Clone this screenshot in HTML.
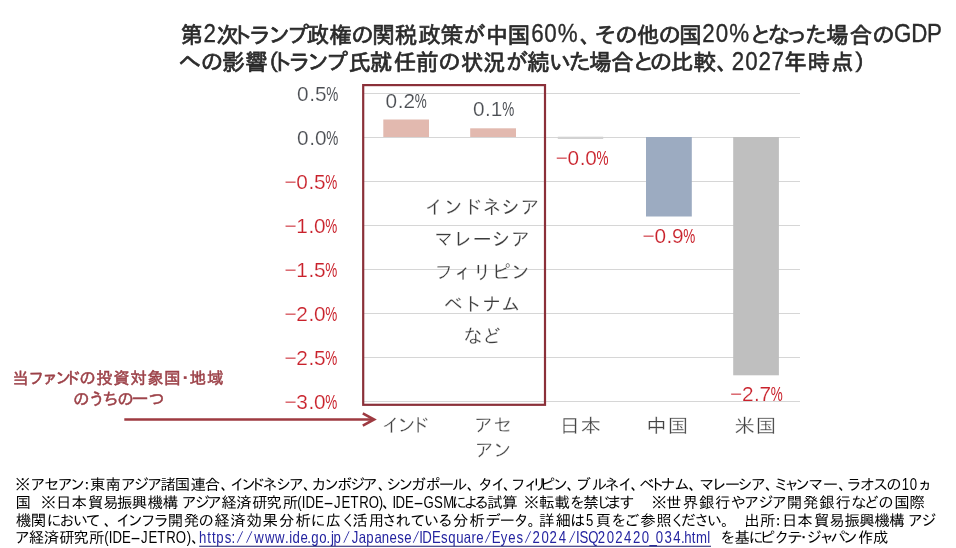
<!DOCTYPE html>
<html lang="ja"><head><meta charset="utf-8"><title>GDP chart</title>
<style>html,body{margin:0;padding:0;background:#fff}svg{display:block}text{white-space:pre}.t{font-family:"Liberation Sans","IPAPGothic","IPAGothic","Noto Sans CJK JP",sans-serif;fill:#2b2b2b;stroke:#2b2b2b;stroke-width:.7px}.tl{stroke-width:.35px}.ax{font-family:"Liberation Sans",sans-serif;font-size:20.8px;stroke:#fff;stroke-width:.2px}.pc{stroke:none}.g{fill:#4b4e53}.r{fill:#c9212b}.in{font-family:"Liberation Sans","IPAGothic","Noto Sans CJK JP",sans-serif;font-size:19.1px;fill:#3c3c3c;stroke:#fff;stroke-width:.2px}.cat{font-family:"Liberation Sans","IPAPGothic","IPAGothic","Noto Sans CJK JP",sans-serif;fill:#444;stroke:#fff;stroke-width:.3px}.an{font-family:"Liberation Sans","IPAPGothic","IPAGothic","Noto Sans CJK JP",sans-serif;fill:#9c4148;stroke:#9c4148;stroke-width:.5px}.fn{font-family:"Liberation Sans","IPAPGothic","IPAGothic","Noto Sans CJK JP",sans-serif;fill:#000}.lk{fill:#2424a0}.sl{stroke:#fff;stroke-width:.75px}</style></head><body>
<svg width="956" height="548" viewBox="0 0 956 548">
<rect width="956" height="548" fill="#fff"/>
<text class="t" font-size="22.5" x="180.4" y="42.5">第</text>
<text class="t tl" font-size="26" x="236.6" y="42.5" transform="scale(0.86 1)">2</text>
<text class="t" font-size="22.5" x="216.4 235.1 250.6 269.7 288.5 306.7 329.4 351.5 372.2 395.0 418.2 440.8 463.5 485.4 507.6" y="42.5">次トランプ政権の関税政策が中国</text>
<text class="t tl" font-size="26" x="617.6 632.9 648.5" y="42.5" transform="scale(0.86 1)">60%</text>
<text class="t" font-size="22.5" x="579.7 595.6 615.4 637.0 658.7 678.9" y="42.5">、その他の国</text>
<text class="t tl" font-size="26" x="816.5 832.2 847.9" y="42.5" transform="scale(0.86 1)">20%</text>
<text class="t" font-size="22.5" x="751.7 767.9 787.8 805.4 826.2 849.8 872.6" y="42.5">となった場合の</text>
<text class="t tl" font-size="26" x="1039.6 1059.5 1077.8" y="42.5" transform="scale(0.86 1)">GDP</text>
<text class="t" font-size="22.5" x="178.8 201.0 222.2 245.2 267.0 275.0 289.9 308.6 327.6 348.4 370.1 393.8 416.0 438.5 460.9 483.2 505.9 527.0 549.7 569.1 589.2 611.2 634.5 649.9 670.7 693.4 716.6" y="69.6">への影響（トランプ氏就任前の状況が続いた場合との比較、</text>
<text class="t tl" font-size="26" x="850.8 866.5 881.9 897.2" y="69.6" transform="scale(0.86 1)">2027</text>
<text class="t" font-size="22.5" x="784.3 807.8 831.0 853.9" y="69.6">年時点）</text>
<line x1="364" x2="800" y1="93.5" y2="93.5" stroke="#d6d6d6" stroke-width="1"/>
<line x1="364" x2="800" y1="137.5" y2="137.5" stroke="#d6d6d6" stroke-width="1"/>
<line x1="364" x2="800" y1="181.5" y2="181.5" stroke="#d6d6d6" stroke-width="1"/>
<line x1="364" x2="800" y1="225.5" y2="225.5" stroke="#d6d6d6" stroke-width="1"/>
<line x1="364" x2="800" y1="269.5" y2="269.5" stroke="#d6d6d6" stroke-width="1"/>
<line x1="364" x2="800" y1="313.5" y2="313.5" stroke="#d6d6d6" stroke-width="1"/>
<line x1="364" x2="800" y1="357.5" y2="357.5" stroke="#d6d6d6" stroke-width="1"/>
<line x1="364" x2="800" y1="401.5" y2="401.5" stroke="#d6d6d6" stroke-width="1"/>
<rect x="383.3" y="119.5" width="45.7" height="17.5" fill="#e2b9af"/>
<rect x="470.2" y="128.3" width="45.8" height="8.7" fill="#e2b9af"/>
<rect x="557.8" y="136.7" width="45.4" height="2.3" fill="#d2d2d2"/>
<rect x="646" y="137.0" width="45.8" height="79.5" fill="#9cabc1"/>
<rect x="733.2" y="137.0" width="45.7" height="238.3" fill="#bfbfbf"/>
<text class="ax g" x="297.0 309.2 314.9" y="100.8">0.5</text>
<text class="ax pc g" x="326.3" y="100.8" textLength="12" lengthAdjust="spacingAndGlyphs">%</text>
<text class="ax g" x="297.0 309.2 314.9" y="144.8">0.0</text>
<text class="ax pc g" x="326.3" y="144.8" textLength="12" lengthAdjust="spacingAndGlyphs">%</text>
<text class="ax r" x="284.5 296.3 308.5 314.0" y="188.9">−0.5</text>
<text class="ax pc r" x="325.2" y="188.9" textLength="12" lengthAdjust="spacingAndGlyphs">%</text>
<text class="ax r" x="284.5 296.3 308.5 314.0" y="232.9">−1.0</text>
<text class="ax pc r" x="325.2" y="232.9" textLength="12" lengthAdjust="spacingAndGlyphs">%</text>
<text class="ax r" x="284.5 296.3 308.5 314.0" y="276.9">−1.5</text>
<text class="ax pc r" x="325.2" y="276.9" textLength="12" lengthAdjust="spacingAndGlyphs">%</text>
<text class="ax r" x="284.5 296.3 308.5 314.0" y="321.0">−2.0</text>
<text class="ax pc r" x="325.2" y="321.0" textLength="12" lengthAdjust="spacingAndGlyphs">%</text>
<text class="ax r" x="284.5 296.3 308.5 314.0" y="365.1">−2.5</text>
<text class="ax pc r" x="325.2" y="365.1" textLength="12" lengthAdjust="spacingAndGlyphs">%</text>
<text class="ax r" x="284.5 296.3 308.5 314.0" y="409.1">−3.0</text>
<text class="ax pc r" x="325.2" y="409.1" textLength="12" lengthAdjust="spacingAndGlyphs">%</text>
<text class="ax g" x="385.5 397.7 403.4" y="108.1">0.2</text>
<text class="ax pc g" x="414.8" y="108.1" textLength="12" lengthAdjust="spacingAndGlyphs">%</text>
<text class="ax g" x="472.9 485.1 490.8" y="116.3">0.1</text>
<text class="ax pc g" x="502.2" y="116.3" textLength="12" lengthAdjust="spacingAndGlyphs">%</text>
<text class="ax r" x="555.7 567.5 579.7 585.2" y="165.2">−0.0</text>
<text class="ax pc r" x="596.4" y="165.2" textLength="12" lengthAdjust="spacingAndGlyphs">%</text>
<text class="ax r" x="642.6 654.4 666.6 672.1" y="243.1">−0.9</text>
<text class="ax pc r" x="683.3" y="243.1" textLength="12" lengthAdjust="spacingAndGlyphs">%</text>
<text class="ax r" x="730.1 741.9 754.1 759.6" y="401.3">−2.7</text>
<text class="ax pc r" x="770.8" y="401.3" textLength="12" lengthAdjust="spacingAndGlyphs">%</text>
<rect x="363.2" y="85.1" width="181.8" height="319.7" fill="none" stroke="#8b3039" stroke-width="2.2"/>
<text class="in" x="482" y="213.6" text-anchor="middle">インドネシア</text>
<text class="in" x="482" y="246.1" text-anchor="middle">マレーシア</text>
<text class="in" x="482" y="278.6" text-anchor="middle">フィリピン</text>
<text class="in" x="482" y="311.1" text-anchor="middle">ベトナム</text>
<text class="in" x="482" y="342.9" text-anchor="middle">など</text>
<text class="cat" font-size="19" x="382.8 398.5 414.0" y="432.0">インド</text>
<text class="cat" font-size="19" x="475.2 493.8" y="431.8">アセ</text>
<text class="cat" font-size="19" x="476.0 494.2" y="456.8">アン</text>
<text class="cat" font-size="19.6" x="532.9 552.9" y="433.4" transform="scale(1.05 1)">日本</text>
<text class="cat" font-size="19.6" x="615.3 636.0" y="433.4" transform="scale(1.05 1)">中国</text>
<text class="cat" font-size="19.6" x="699.6 719.7" y="433.4" transform="scale(1.05 1)">米国</text>
<text class="an" font-size="16.6" x="12.2 29.4 44.0 56.2 67.2 79.6 96.3 113.2 130.3 147.2 164.1 180.9 189.4 207.1" y="383.8">当ファンドの投資対象国・地域</text>
<text class="an" font-size="16.6" x="73.3 90.3 103.2 117.6 131.8 148.8" y="405.1">のうちの一つ</text>
<line x1="124.3" x2="374" y1="419.5" y2="419.5" stroke="#9e3a41" stroke-width="2.4"/>
<polyline points="362.8,413.4 374.1,419.5 362.8,425.6" fill="none" stroke="#9e3a41" stroke-width="2.6" stroke-linejoin="miter"/>
<text class="fn" font-size="15.4" x="15.1 31.3 44.6 58.4 71.0 82.9 90.0 105.4 121.8 134.5 147.9 160.4 174.8 190.6 204.8 220.4 230.9 241.9 252.5 263.0 276.7 289.7 302.9 312.0 324.9 337.4 350.7 363.5 377.8 386.9 399.3 411.5 425.9 439.3 452.0 466.7 479.1 491.9 502.9 512.1 525.3 533.6 541.0 554.0 566.5 577.1 591.8 604.9 619.0 630.6 639.6 652.2 661.1 674.9 688.4 699.7 713.0 725.3 738.2 751.7 764.9 774.8 786.0 795.9 808.8 823.3 838.2 847.6 860.5 873.6 886.5" y="490.1">※アセアン：東南アジア諸国連合、インドネシア、カンボジア、シンガポール、タイ、フィリピン、ブルネイ、ベトナム、マレーシア、ミャンマー、ラオスの</text>
<text class="fn" font-size="16.7" x="1141.5 1151.6" y="490.1" transform="scale(0.79 1)">10</text>
<text class="fn" font-size="15.4" x="919.2" y="490.1">ヵ</text>
<text class="fn" font-size="15.4" x="15.5 28.4 40.7 55.9 71.4 87.9 103.0 116.9 131.8 147.8 162.7" y="507.9">国　※日本貿易振興機構</text>
<text class="fn" font-size="16.7" x="226.2" y="507.9" transform="scale(0.79 1)"> </text>
<text class="fn" font-size="15.4" x="182.5 195.4 207.8 221.3 236.3 252.2 266.3 282.7" y="507.9">アジア経済研究所</text>
<text class="fn" font-size="16.7" x="376.2 382.1 386.7 398.8" y="507.9" transform="scale(0.79 1)">(IDE</text>
<text class="fn" font-size="16.7" x="170.2" y="507.9" transform="scale(1.9 1)">-</text>
<text class="fn" font-size="16.7" x="422.8 432.4 443.7 454.7 466.7 479.4" y="507.9" transform="scale(0.79 1)">JETRO)</text>
<text class="fn" font-size="15.4" x="382.3" y="507.9">、</text>
<text class="fn" font-size="16.7" x="496.7 500.7 512.7" y="507.9" transform="scale(0.79 1)">IDE</text>
<text class="fn" font-size="16.7" x="217.5" y="507.9" transform="scale(1.9 1)">-</text>
<text class="fn" font-size="16.7" x="536.1 549.5 561.0" y="507.9" transform="scale(0.79 1)">GSM</text>
<text class="fn" font-size="15.4" x="452.2 464.4 475.2 487.3 502.3" y="507.9">による試算</text>
<text class="fn" font-size="16.7" x="657.6" y="507.9" transform="scale(0.79 1)"> </text>
<text class="fn" font-size="15.4" x="523.8 539.0 554.5 570.4 583.3 597.8 607.8 620.0 634.9 651.5 666.1 682.8 699.1 714.9 731.3 745.1 758.9 772.8 786.7 803.0 819.2 835.6 851.6 865.3 878.5 894.2 909.6" y="507.9">※転載を禁じます　※世界銀行やアジア開発銀行などの国際</text>
<text class="fn" font-size="15.4" x="16.1 30.7 47.1 60.1 73.5 86.2 103.8 116.9 128.8 142.1 154.8 167.8 183.7 198.8 214.3 230.3 246.6 262.5 279.1 295.4 311.0 325.7 342.8 352.4 368.8 382.8 395.5 411.0 424.4 439.0 453.0 469.4 485.9 500.1 514.8 527.6 539.0 555.6 570.6" y="525.6">機関において、インフラ開発の経済効果分析に広く活用されている分析データ。詳細は</text>
<text class="fn" font-size="16.7" x="741.9" y="525.6" transform="scale(0.79 1)">5</text>
<text class="fn" font-size="15.4" x="595.8 612.1 625.6 640.2 656.2 672.1 680.9 695.0 707.4 721.1 728.8 744.2 759.9 774.3 781.9 797.3 813.9 829.3 844.4 859.2 874.5 889.3" y="525.6">頁をご参照ください。　出所：日本貿易振興機構</text>
<text class="fn" font-size="16.7" x="1145.5" y="525.6" transform="scale(0.79 1)"> </text>
<text class="fn" font-size="15.4" x="908.7 922.1" y="525.6">アジ</text>
<text class="fn" font-size="15.4" x="15.7 28.8 43.7 59.2 73.3 89.1" y="543.4">ア経済研究所</text>
<text class="fn" font-size="16.7" x="131.9 137.7 142.4 154.5" y="543.4" transform="scale(0.79 1)">(IDE</text>
<text class="fn" font-size="16.7" x="68.5" y="543.4" transform="scale(1.9 1)">-</text>
<text class="fn" font-size="16.7" x="178.5 188.1 199.2 210.4 222.4 236.5" y="543.4" transform="scale(0.79 1)">JETRO)</text>
<text class="fn" font-size="15.4" x="191.2" y="543.4">、</text>
<text class="fn lk" font-size="16.7" x="252.0 262.5 268.4 273.9 284.5 293.0" y="543.4" transform="scale(0.79 1)">https:</text>
<text class="fn lk sl" font-size="16.7" x="138.8 144.2" y="543.4" transform="scale(1.7 1)">//</text>
<text class="fn lk" font-size="16.7" x="322.0 335.3 348.1 360.9 366.1 370.2 380.3 389.0 394.0 404.1 413.3 419.0 422.2" y="543.4" transform="scale(0.79 1)">www.ide.go.jp</text>
<text class="fn lk sl" font-size="16.7" x="201.4" y="543.4" transform="scale(1.7 1)">/</text>
<text class="fn lk" font-size="16.7" x="445.4 454.0 463.7 474.1 483.3 493.2 503.0 511.7" y="543.4" transform="scale(0.79 1)">Japanese</text>
<text class="fn lk sl" font-size="16.7" x="242.3" y="543.4" transform="scale(1.7 1)">/</text>
<text class="fn lk" font-size="16.7" x="530.7 534.5 546.7 558.1 567.5 577.6 587.1 596.7 603.0" y="543.4" transform="scale(0.79 1)">IDEsquare</text>
<text class="fn lk sl" font-size="16.7" x="284.7" y="543.4" transform="scale(1.7 1)">/</text>
<text class="fn lk" font-size="16.7" x="622.4 634.0 643.3 653.7" y="543.4" transform="scale(0.79 1)">Eyes</text>
<text class="fn lk sl" font-size="16.7" x="308.2" y="543.4" transform="scale(1.7 1)">/</text>
<text class="fn lk" font-size="16.7" x="674.0 685.3 695.6 707.2" y="543.4" transform="scale(0.79 1)">2024</text>
<text class="fn lk sl" font-size="16.7" x="334.2" y="543.4" transform="scale(1.7 1)">/</text>
<text class="fn lk" font-size="16.7" x="729.0 733.4 744.5 756.8 768.0 778.9 790.0 801.2 812.5 822.0 830.1 841.3 852.1 862.0 866.2 875.6 881.0 895.3" y="543.4" transform="scale(0.79 1)">ISQ202420_034.html</text>
<line x1="199.2" x2="711" y1="546.3" y2="546.3" stroke="#17176a" stroke-width="1.1"/>
<text class="fn" font-size="15.4" x="720.9 734.4 749.0 760.9 775.4 788.1 799.7 807.3 821.1 830.7 843.8 857.9 873.1" y="543.4">を基にピクテ・ジャパン作成</text>
</svg></body></html>
